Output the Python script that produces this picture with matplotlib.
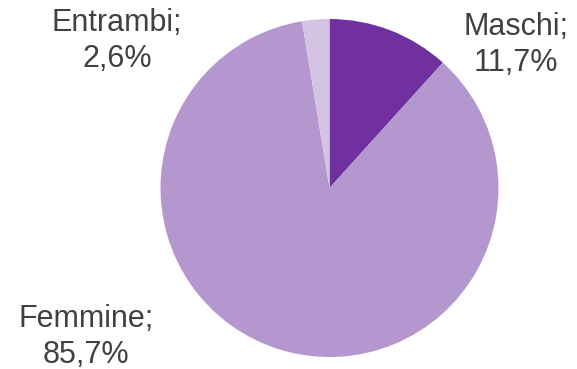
import matplotlib.pyplot as plt

labels = ["Maschi", "Femmine", "Entrambi"]
values = [11.7, 85.7, 2.6]
colors = ["#7030A0", "#B497CF", "#D5C3E4"]

# label block centres, in pixels from the top-left of the figure
label_px = [(516, 45), (86, 337), (117, 41)]

W, H = 577, 369
cx, cy, r = 329.5, 188, 169

fig = plt.figure(figsize=(W / 100, H / 100), dpi=100)
ax = fig.add_axes([0, 0, 1, 1])
ax.pie(values, colors=colors, startangle=90, counterclock=False,
       radius=1, center=(0, 0), wedgeprops=dict(linewidth=0))
ax.set_xlim(-cx / r, (W - cx) / r)
ax.set_ylim(-(H - cy) / r, cy / r)
ax.set_aspect("equal")
ax.axis("off")

for name, val, (px, py) in zip(labels, values, label_px):
    txt = f"{name};\n{val:.1f}%".replace(".", ",")
    ax.text((px - cx) / r, (cy - py) / r, txt, ha="center", va="center",
            fontsize=22, color="#404040", family="Liberation Sans",
            linespacing=1.23)

fig.savefig("out.png", dpi=100)
